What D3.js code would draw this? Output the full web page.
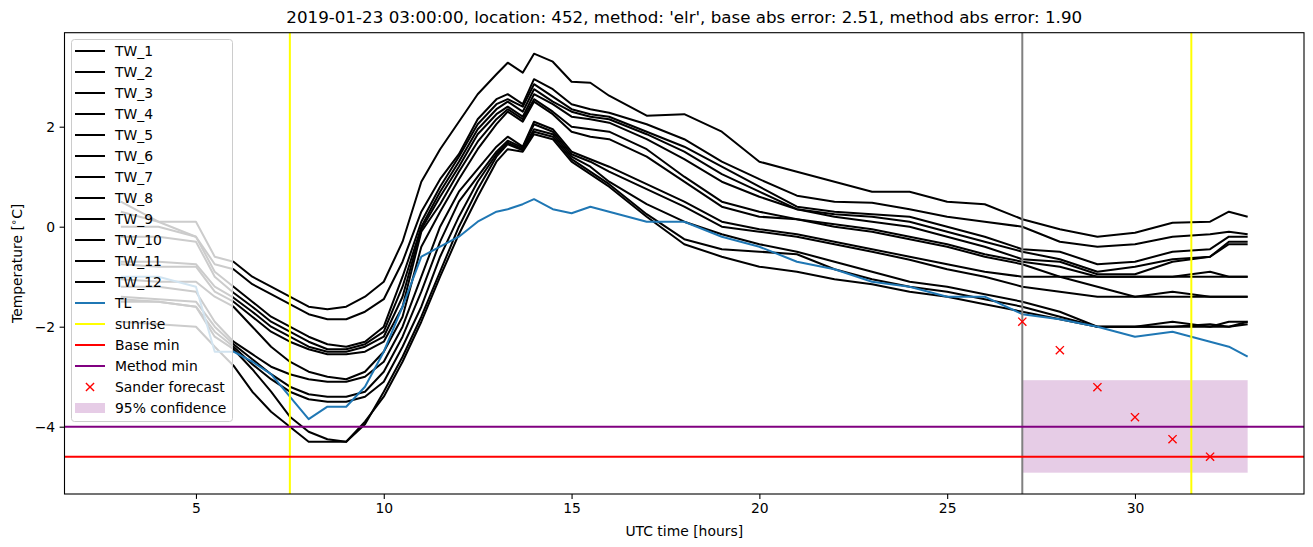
<!DOCTYPE html>
<html>
<head>
<meta charset="utf-8">
<script src="https://cdn.jsdelivr.net/npm/d3@7"></script>
<style>
body { margin: 0; background: #fff; }
text { font-family: "DejaVu Sans", sans-serif; fill: #000; }
</style>
</head>
<body>
<svg id="chart"></svg>
<script>
const W = 1313, H = 547;
const margin = {left: 64.5, right: 9, top: 32.7, bottom: 53};

// hours (UTC, counted from 00:00 of the previous day)
const hours = [3, 4, 5, 5.5, 6, 6.5, 7, 7.5, 8, 8.5, 9, 9.5, 10, 10.5, 11, 11.5, 12, 12.5, 13, 13.3, 13.7,
  14, 14.5, 15, 15.5, 16, 17, 18, 19, 20, 21, 22, 23, 24, 25, 26, 27, 28, 29, 30, 31, 32, 32.5, 33];

const tw1  = [0.5, 0.1, 0.1, -0.6, -0.7, -1.0, -1.2, -1.4, -1.6, -1.65, -1.6, -1.4, -1.1, -0.3, 0.9, 1.55, 2.1, 2.65, 3.05, 3.28, 3.08,
  3.46, 3.3, 2.9, 2.88, 2.62, 2.22, 2.25, 1.9, 1.3, 1.1, 0.9, 0.7, 0.7, 0.5, 0.45, 0.15, -0.05, -0.2, -0.12, 0.08, 0.1, 0.3, 0.2];
const tw2  = [0.3, 0.1, -0.2, -0.75, -0.85, -1.15, -1.35, -1.55, -1.75, -1.85, -1.85, -1.7, -1.45, -0.7, 0.3, 0.95, 1.45, 2.15, 2.55, 2.65, 2.45,
  2.95, 2.75, 2.45, 2.35, 2.28, 2.05, 1.75, 1.3, 0.95, 0.62, 0.5, 0.48, 0.35, 0.2, 0.1, 0.0, -0.3, -0.4, -0.35, -0.2, -0.15, -0.1, -0.15];
const tw3  = [0.0, 0.0, -0.2, -0.9, -1.2, -1.5, -1.8, -2.0, -2.2, -2.35, -2.4, -2.3, -2.0, -1.0, 0.1, 0.8, 1.4, 2.05, 2.45, 2.55, 2.4,
  2.85, 2.6, 2.35, 2.25, 2.2, 1.9, 1.6, 1.2, 0.8, 0.4, 0.3, 0.25, 0.2, 0.0, -0.2, -0.45, -0.5, -0.75, -0.7, -0.5, -0.45, -0.2, -0.2];
const tw4  = [-0.2, -0.2, -0.3, -1.0, -1.32, -1.6, -1.9, -2.1, -2.3, -2.45, -2.45, -2.35, -2.1, -1.2, 0.0, 0.7, 1.3, 1.95, 2.35, 2.5, 2.3,
  2.75, 2.5, 2.3, 2.2, 2.15, 1.85, 1.5, 1.05, 0.7, 0.35, 0.25, 0.2, 0.1, -0.1, -0.3, -0.5, -0.65, -0.9, -0.8, -0.65, -0.6, -0.3, -0.3];
const tw5  = [-0.7, -0.7, -0.75, -1.2, -1.42, -1.7, -2.0, -2.2, -2.4, -2.5, -2.5, -2.4, -2.2, -1.4, -0.05, 0.6, 1.2, 1.85, 2.25, 2.4, 2.2,
  2.65, 2.45, 2.2, 2.15, 2.08, 1.75, 1.35, 0.9, 0.6, 0.35, 0.2, 0.1, 0.0, -0.2, -0.4, -0.65, -0.7, -0.95, -0.95, -0.7, -0.6, -0.35, -0.35];
const tw6  = [-0.75, -0.8, -0.8, -1.3, -1.5, -1.8, -2.1, -2.3, -2.45, -2.55, -2.55, -2.5, -2.3, -1.6, -0.1, 0.45, 1.1, 1.7, 2.15, 2.35, 2.15,
  2.55, 2.3, 2.0, 1.95, 1.9, 1.55, 1.0, 0.5, 0.3, 0.15, 0.05, -0.05, -0.2, -0.35, -0.55, -0.7, -0.8, -1.0, -1.0, -1.0, -0.9, -1.0, -1.0];
const tw7  = [-1.05, -1.1, -1.1, -1.4, -1.6, -2.0, -2.4, -2.7, -2.9, -3.0, -3.05, -2.9, -2.5, -1.8, -0.4, 0.3, 0.95, 1.55, 2.05, 2.3, 2.1,
  2.5, 2.25, 1.9, 1.8, 1.75, 1.4, 0.9, 0.4, 0.2, 0.15, 0.0, -0.1, -0.25, -0.4, -0.6, -0.75, -1.0, -1.2, -1.4, -1.3, -1.4, -1.4, -1.4];
const tw8  = [-1.2, -1.2, -1.3, -1.9, -2.3, -2.55, -2.8, -2.95, -3.05, -3.1, -3.1, -3.0, -2.7, -2.0, -1.0, 0.0, 0.7, 1.15, 1.6, 1.8, 1.6,
  2.1, 1.95, 1.5, 1.35, 1.2, 0.85, 0.5, 0.1, -0.05, -0.15, -0.3, -0.45, -0.6, -0.75, -0.9, -1.0, -1.0, -1.0, -1.0, -1.0, -1.0, -1.0, -1.0];
const tw9  = [-1.4, -1.45, -1.5, -2.0, -2.35, -2.65, -2.95, -3.2, -3.35, -3.4, -3.4, -3.3, -2.9, -2.2, -1.3, -0.3, 0.5, 1.0, 1.5, 1.72, 1.58,
  2.05, 1.9, 1.45, 1.3, 1.1, 0.75, 0.4, 0.0, -0.1, -0.2, -0.35, -0.5, -0.66, -0.85, -1.0, -1.2, -1.3, -1.4, -1.4, -1.4, -1.4, -1.4, -1.4];
const tw10 = [-1.5, -1.5, -1.6, -2.1, -2.4, -2.75, -3.05, -3.3, -3.45, -3.5, -3.5, -3.4, -3.1, -2.4, -1.6, -0.6, 0.2, 0.9, 1.45, 1.68, 1.55,
  1.95, 1.85, 1.4, 1.2, 0.9, 0.45, 0.1, -0.15, -0.35, -0.5, -0.7, -0.9, -1.1, -1.2, -1.35, -1.5, -1.7, -2.0, -2.0, -1.9, -2.0, -1.9, -1.9];
const tw11 = [-1.9, -1.95, -2.0, -2.4, -2.78, -3.3, -3.7, -4.0, -4.3, -4.3, -4.3, -3.95, -3.3, -2.6, -1.8, -0.9, 0.0, 0.75, 1.4, 1.65, 1.53,
  1.9, 1.8, 1.35, 1.1, 0.85, 0.25, -0.25, -0.45, -0.5, -0.55, -0.85, -1.05, -1.2, -1.3, -1.45, -1.6, -1.8, -2.0, -2.0, -2.0, -2.0, -2.0, -1.95];
const tw12 = [-1.45, -1.5, -1.6, -2.2, -2.45, -2.85, -3.3, -3.8, -4.1, -4.25, -4.3, -3.9, -3.4, -2.7, -1.9, -1.0, -0.15, 0.6, 1.3, 1.55, 1.5,
  1.85, 1.75, 1.3, 1.05, 0.8, 0.2, -0.35, -0.6, -0.8, -0.9, -1.05, -1.15, -1.3, -1.4, -1.55, -1.7, -1.85, -2.0, -2.0, -2.0, -1.95, -2.0, -1.9];
const tl   = [-1.0, -1.0, -1.2, -2.5, -2.5, -2.7, -2.95, -3.4, -3.85, -3.6, -3.6, -3.2, -2.5, -1.6, -0.6, -0.4, -0.2, 0.1, 0.3, 0.35, 0.45,
  0.55, 0.35, 0.27, 0.4, 0.3, 0.1, 0.1, -0.2, -0.4, -0.7, -0.85, -1.1, -1.2, -1.4, -1.4, -1.75, -1.85, -2.0, -2.2, -2.1, -2.3, -2.4, -2.6];

const twSeries = [tw1, tw2, tw3, tw4, tw5, tw6, tw7, tw8, tw9, tw10, tw11, tw12];
const twNames = twSeries.map((_, i) => "TW_" + (i + 1));

const sunrise = [7.5, 31.5];
const forecastStart = 27;
const baseMin = -4.6;
const methodMin = -4.0;
const sanderHours = [27, 28, 29, 30, 31, 32];
const sanderTemps = [-1.9, -2.47, -3.21, -3.81, -4.25, -4.6];
const confHours = [27, 33];
const confRange = [-4.92, -3.07];

const xTicks = [5, 10, 15, 20, 25, 30];
const yTicks = [-4, -2, 0, 2];
const title = "2019-01-23 03:00:00, location: 452, method: 'elr', base abs error: 2.51, method abs error: 1.90";

const fs = 13.9, lw = 2;
const svg = d3.select("#chart").attr("width", W).attr("height", H);

const x = d3.scaleLinear().domain([1.5, 34.5]).range([margin.left, W - margin.right]);
const y = d3.scaleLinear().domain([-5.346, 3.88]).range([H - margin.bottom, margin.top]);

const plot = svg.append("g");
const line = d3.line().x(d => x(d[0])).y(d => y(d[1]));

// 95% confidence band
plot.append("rect")
  .attr("x", x(confHours[0])).attr("width", x(confHours[1]) - x(confHours[0]))
  .attr("y", y(confRange[1])).attr("height", y(confRange[0]) - y(confRange[1]))
  .attr("fill", "purple").attr("fill-opacity", 0.2);

plot.selectAll(".tw").data(twSeries).enter().append("path")
  .attr("class", "tw")
  .attr("d", s => line(hours.map((h, i) => [h, s[i]])))
  .attr("fill", "none").attr("stroke", "black").attr("stroke-width", lw)
  .attr("stroke-linejoin", "round");

plot.append("path")
  .attr("d", line(hours.map((h, i) => [h, tl[i]])))
  .attr("fill", "none").attr("stroke", "#1f77b4").attr("stroke-width", lw)
  .attr("stroke-linejoin", "round");

const [y0, y1] = y.range();
plot.selectAll(".sun").data(sunrise).enter().append("line")
  .attr("x1", d => x(d)).attr("x2", d => x(d)).attr("y1", y0).attr("y2", y1)
  .attr("stroke", "yellow").attr("stroke-width", lw);

plot.append("line")
  .attr("x1", x(forecastStart)).attr("x2", x(forecastStart)).attr("y1", y0).attr("y2", y1)
  .attr("stroke", "gray").attr("stroke-width", lw);

const [xa, xb] = x.range();
plot.selectAll(".hmin").data([[baseMin, "red"], [methodMin, "purple"]]).enter().append("line")
  .attr("x1", xa).attr("x2", xb).attr("y1", d => y(d[0])).attr("y2", d => y(d[0]))
  .attr("stroke", d => d[1]).attr("stroke-width", lw);

const cross = d3.symbol().type(d3.symbolX).size(45);
plot.selectAll(".sander").data(sanderHours.map((h, i) => [h, sanderTemps[i]])).enter().append("path")
  .attr("d", cross)
  .attr("transform", d => `translate(${x(d[0])},${y(d[1])})`)
  .attr("fill", "none").attr("stroke", "red").attr("stroke-width", 1.4);

// axes
const xAxis = svg.append("g").attr("transform", `translate(0,${y0})`)
  .call(d3.axisBottom(x).tickValues(xTicks).tickSize(4.9).tickPadding(4.5).tickFormat(d3.format("d")));
const yAxis = svg.append("g").attr("transform", `translate(${xa},0)`)
  .call(d3.axisLeft(y).tickValues(yTicks).tickSize(4.9).tickPadding(4.5).tickFormat(d => d < 0 ? "\u2212" + Math.abs(d) : d));
[xAxis, yAxis].forEach(g => {
  g.select(".domain").remove();
  g.selectAll("text").attr("font-size", fs).attr("font-family", "DejaVu Sans").attr("fill", "#000");
  g.selectAll("line").attr("stroke", "#000").attr("stroke-width", 1.1);
});

svg.append("rect").attr("x", xa).attr("y", y1).attr("width", xb - xa).attr("height", y0 - y1)
  .attr("fill", "none").attr("stroke", "#000").attr("stroke-width", 1.1);

svg.append("text").attr("x", (xa + xb) / 2).attr("y", 23).attr("text-anchor", "middle")
  .attr("font-size", 16.7).text(title);
svg.append("text").attr("x", (xa + xb) / 2).attr("y", 536).attr("text-anchor", "middle")
  .attr("font-size", fs).text("UTC time [hours]");
const yl = svg.append("text").attr("transform", `translate(22,${(y0 + y1) / 2}) rotate(-90)`)
  .attr("text-anchor", "middle").attr("font-size", fs);
yl.append("tspan").text("Temperature [");
yl.append("tspan").attr("font-size", 10).attr("dy", -5).text("\u2218");
yl.append("tspan").attr("dy", 5).text("C]");

// legend
const legendItems = twNames.map(n => ({label: n, kind: "line", color: "black"}))
  .concat([
    {label: "TL", kind: "line", color: "#1f77b4"},
    {label: "sunrise", kind: "line", color: "yellow"},
    {label: "Base min", kind: "line", color: "red"},
    {label: "Method min", kind: "line", color: "purple"},
    {label: "Sander forecast", kind: "marker", color: "red"},
    {label: "95% confidence", kind: "patch", color: "purple"}
  ]);
const lg = svg.append("g");
lg.append("rect").attr("x", 71.5).attr("y", 39.5).attr("width", 161).attr("height", 382).attr("rx", 3)
  .attr("fill", "white").attr("fill-opacity", 0.8).attr("stroke", "#cccccc").attr("stroke-width", 1);
const rows = lg.selectAll(".item").data(legendItems).enter().append("g")
  .attr("transform", (d, i) => `translate(0,${51 + i * 21})`);
rows.filter(d => d.kind === "line").append("line")
  .attr("x1", 75).attr("x2", 105).attr("stroke", d => d.color).attr("stroke-width", lw);
rows.filter(d => d.kind === "marker").append("path")
  .attr("d", cross).attr("transform", "translate(90,0)")
  .attr("fill", "none").attr("stroke", d => d.color).attr("stroke-width", 1.4);
rows.filter(d => d.kind === "patch").append("rect")
  .attr("x", 75).attr("y", -5).attr("width", 30).attr("height", 10)
  .attr("fill", d => d.color).attr("fill-opacity", 0.2);
rows.append("text").attr("x", 115).attr("dy", "0.35em").attr("font-size", fs).text(d => d.label);
</script>
</body>
</html>
